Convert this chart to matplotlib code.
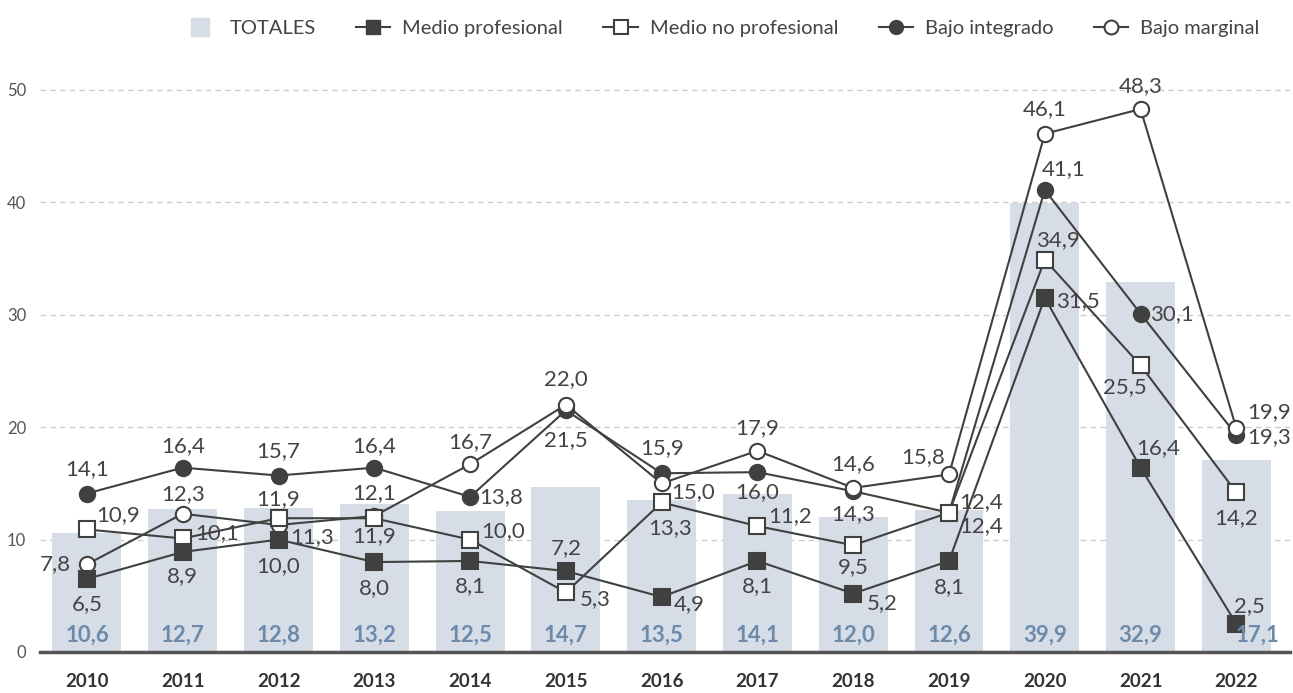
import matplotlib.pyplot as plt
from matplotlib.lines import Line2D
import numpy as np

plt.rcParams['font.family'] = ['Lato', 'DejaVu Sans']

years = ['2010', '2011', '2012', '2013', '2014', '2015', '2016',
         '2017', '2018', '2019', '2020', '2021', '2022']
totales = [10.6, 12.7, 12.8, 13.2, 12.5, 14.7, 13.5, 14.1, 12.0, 12.6, 39.9, 32.9, 17.1]
medio_prof = [6.5, 8.9, 10.0, 8.0, 8.1, 7.2, 4.9, 8.1, 5.2, 8.1, 31.5, 16.4, 2.5]
medio_no_prof = [10.9, 10.1, 11.9, 11.9, 10.0, 5.3, 13.3, 11.2, 9.5, 12.4, 34.9, 25.5, 14.2]
bajo_integrado = [14.1, 16.4, 15.7, 16.4, 13.8, 21.5, 15.9, 16.0, 14.3, 12.4, 41.1, 30.1, 19.3]
bajo_marginal = [7.8, 12.3, 11.3, 12.1, 16.7, 22.0, 15.0, 17.9, 14.6, 15.8, 46.1, 48.3, 19.9]

# label offsets in pixels (dx, dy up)
off_mp = [(0, -25), (0, -24), (0, -27), (0, -26), (0, -25), (0, 23), (28, -7),
          (0, -25), (29, -10), (0, -26), (33, -3), (18, 20), (13, 18)]
off_mnp = [(31, 14), (34, 5), (0, 19), (0, -18), (33, 8), (29, -7), (8, -26),
           (33, 10), (0, -22), (32, 11), (13, 20), (-16, -22), (0, -26)]
off_bi = [(0, 24), (0, 22), (0, 24), (0, 22), (31, 0), (0, -30), (0, 25),
          (0, -20), (0, -23), (32, -13), (19, 21), (31, 0), (33, -2)]
off_bm = [(-32, 0), (0, 20), (34, -12), (0, 23), (0, 22), (0, 26), (31, -9),
          (0, 23), (0, 24), (-26, 17), (0, 25), (0, 23), (33, 16)]
bar_lab_dx = [0]*12 + [0.22]

line_c = '#404040'
bar_c = '#d6dde6'
barlab_c = '#6d8aab'

fig = plt.figure(figsize=(12.93, 6.93), dpi=100)
ax = fig.add_axes([40/1293, 41/693, 1250/1293, 607/693])
x = np.arange(len(years))

ax.bar(x, totales, width=0.72, color=bar_c, zorder=1)
for xi, v, d in zip(x, totales, bar_lab_dx):
    ax.text(xi + d, 1.45, f'{v:.1f}'.replace('.', ','), ha='center', va='center',
            fontsize=16, fontweight='bold', color=barlab_c, zorder=8)

series = [
    (medio_prof, 's', line_c, off_mp, 6),
    (medio_no_prof, 's', 'white', off_mnp, 5),
    (bajo_integrado, 'o', line_c, off_bi, 3),
    (bajo_marginal, 'o', 'white', off_bm, 4),
]
for vals, mk, fc, offs, z in series:
    ax.plot(x, vals, color=line_c, lw=1.5, marker=mk, markersize=11,
            markerfacecolor=fc, markeredgecolor=line_c, markeredgewidth=1.5, zorder=z)
    for xi, v, (dx, dy) in zip(x, vals, offs):
        ax.annotate(f'{v:.1f}'.replace('.', ','), (xi, v),
                    xytext=(dx * 0.72, dy * 0.72), textcoords='offset points',
                    ha='center', va='center', fontsize=16, color='#444444', zorder=7)

ax.set_xlim(-0.49, 12.56)
ax.set_ylim(0, 54)
ax.set_yticks([0, 10, 20, 30, 40, 50])
ax.set_xticks(x)
ax.set_xticklabels(years, fontsize=13.5, fontweight='bold', color='#333333')
ax.tick_params(axis='x', length=0, pad=15)
ax.tick_params(axis='y', length=0, pad=10, labelsize=12, labelcolor='#555555')
ax.grid(axis='y', linestyle=(0, (4, 3)), color='#cccccc', lw=1)
ax.set_axisbelow(True)
for s in ['top', 'right', 'left']:
    ax.spines[s].set_visible(False)
ax.spines['bottom'].set_color('#555555')
ax.spines['bottom'].set_linewidth(2.5)
ax.spines['bottom'].set_zorder(9)

handles = [
    Line2D([], [], lw=0, marker='s', markersize=13, markerfacecolor=bar_c,
           markeredgecolor=bar_c),
    Line2D([], [], color=line_c, lw=1.5, marker='s', markersize=10,
           markerfacecolor=line_c, markeredgecolor=line_c),
    Line2D([], [], color=line_c, lw=1.5, marker='s', markersize=10,
           markerfacecolor='white', markeredgecolor=line_c, markeredgewidth=1.5),
    Line2D([], [], color=line_c, lw=1.5, marker='o', markersize=10,
           markerfacecolor=line_c, markeredgecolor=line_c),
    Line2D([], [], color=line_c, lw=1.5, marker='o', markersize=10,
           markerfacecolor='white', markeredgecolor=line_c, markeredgewidth=1.5),
]
labels = ['TOTALES', 'Medio profesional', 'Medio no profesional',
          'Bajo integrado', 'Bajo marginal']
leg = fig.legend(handles, labels, loc='upper right', bbox_to_anchor=(0.988, 0.998),
                 ncol=5, frameon=False, fontsize=14.5, handlelength=1.7,
                 columnspacing=2.0, handletextpad=0.6)
for t in leg.get_texts():
    t.set_color('#444444')

fig.savefig('out.png', dpi=100)
